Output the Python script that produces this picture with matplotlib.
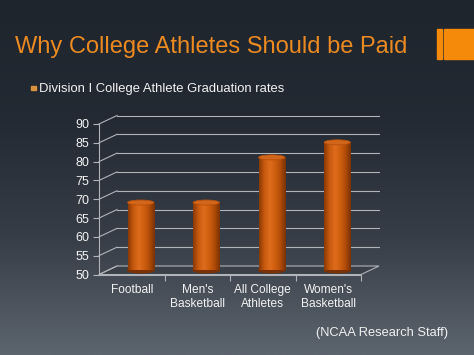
import numpy as np
import matplotlib
matplotlib.use('agg')
import matplotlib.pyplot as plt
from matplotlib.colors import LinearSegmentedColormap
from matplotlib.patches import Rectangle, Ellipse, Polygon

categories = ['Football', "Men's\nBasketball", 'All College\nAthletes', "Women's\nBasketball"]
grad_rates = [68, 68, 80, 84]
y_ticks = [50, 55, 60, 65, 70, 75, 80, 85, 90]

plt.rcParams['font.family'] = ['Liberation Sans', 'DejaVu Sans']

W, H = 474, 355
fig = plt.figure(figsize=(W / 100, H / 100), dpi=100)

# background gradient
bg = fig.add_axes([0, 0, 1, 1])
bg_cmap = LinearSegmentedColormap.from_list('bg', ['#1f252d', '#242a33', '#363d47', '#5c646e'])
bg.imshow(np.linspace(0, 1, 256).reshape(-1, 1), aspect='auto', cmap=bg_cmap,
          extent=[0, 1, 0, 1], origin='upper')
bg.set_xlim(0, 1)
bg.set_ylim(0, 1)
bg.axis('off')

def fx(px):
    return px / W

def fy(py):
    return (H - py) / H

# header
fig.text(fx(15), fy(53), 'Why College Athletes Should be Paid', color='#ec8a22',
         fontsize=17, va='baseline', ha='left')
fig.patches.append(Rectangle((fx(437), fy(59)), fx(5), 30 / H, transform=fig.transFigure,
                             color='#f58a0a', zorder=3))
fig.patches.append(Rectangle((fx(444), fy(59)), fx(30), 30 / H, transform=fig.transFigure,
                             color='#f58a0a', zorder=3))
fig.patches.append(Rectangle((fx(31), fy(90)), fx(4.5), 4.5 / H, transform=fig.transFigure,
                             color='#d8913c', zorder=3))
fig.text(fx(39), fy(92), 'Division I College Athlete Graduation rates', color='#f2f2f2',
         fontsize=9.4, va='baseline', ha='left')
fig.text(fx(448), fy(333), '(NCAA Research Staff)', color='#f0f0f0',
         fontsize=9.3, va='center', ha='right')

# chart (front plane of the pseudo 3D chart)
ax_left, ax_right, ax_top, ax_bot = 99, 361, 124, 274.5
ax = fig.add_axes([fx(ax_left), fy(ax_bot), (ax_right - ax_left) / W, (ax_bot - ax_top) / H])
ax.set_facecolor('none')

px_x = (len(categories)) / (ax_right - ax_left)
px_y = 40 / (ax_bot - ax_top)
dx, dy = 18 * px_x, 8.5 * px_y
x0, x1 = -0.5, len(categories) - 0.5

grid_c = '#b0b4b9'
for v in y_ticks:
    ax.plot([x0, x0 + dx], [v, v + dy], color=grid_c, lw=0.8, clip_on=False)
    if v > 50:
        ax.plot([x0 + dx, x1 + dx], [v + dy, v + dy], color=grid_c, lw=0.8, clip_on=False)
floor = Polygon([(x0, 50), (x1, 50), (x1 + dx, 50 + dy), (x0 + dx, 50 + dy)],
                closed=True, facecolor='#3a4048', edgecolor=grid_c, lw=0.8, clip_on=False)
ax.add_patch(floor)

# cylinders
bar_cmap = LinearSegmentedColormap.from_list('bar', ['#8c3a05', '#c75a0e', '#de6c1c', '#cf5f10', '#b04c08', '#7a3204'])
bw = 0.4
eh = 5 * px_y
for i, v in enumerate(grad_rates):
    cx = i + dx / 2
    base = 50 + dy / 2
    top = v + dy / 2
    ax.add_patch(Ellipse((cx, base), bw, eh, color='#7a3204', zorder=3, clip_on=False))
    body = Rectangle((cx - bw / 2, base), bw, top - base, facecolor='none', edgecolor='none')
    ax.add_patch(body)
    im = ax.imshow(np.linspace(0, 1, 64).reshape(1, -1), cmap=bar_cmap, aspect='auto',
                   extent=[cx - bw / 2, cx + bw / 2, base, top], zorder=4)
    im.set_clip_path(body)
    ax.add_patch(Ellipse((cx, top), bw, eh, facecolor='#d2661a', edgecolor='#b8500c',
                         lw=0.6, zorder=5, clip_on=False))

ax.set_xlim(-0.5, len(categories) - 0.5)
ax.set_ylim(50, 90)

for s in ['top', 'right']:
    ax.spines[s].set_visible(False)
for s in ['left', 'bottom']:
    ax.spines[s].set_color(grid_c)
    ax.spines[s].set_linewidth(0.8)
ax.set_yticks(y_ticks)
ax.tick_params(axis='y', colors=grid_c, labelcolor='#f4f4f4', labelsize=9, length=4,
               width=0.8, pad=3)
ax.set_xticks(range(len(categories)))
ax.set_xticklabels(categories, color='#f2f2f2', fontsize=8.6, linespacing=1.25)
ax.set_xticks([0.5, 1.5, 2.5, 3.5], minor=True)
ax.tick_params(axis='x', which='major', length=0, pad=7)
ax.tick_params(axis='x', which='minor', colors=grid_c, length=4, width=0.8)

fig.savefig('out.png', dpi=100)
plt.close(fig)
